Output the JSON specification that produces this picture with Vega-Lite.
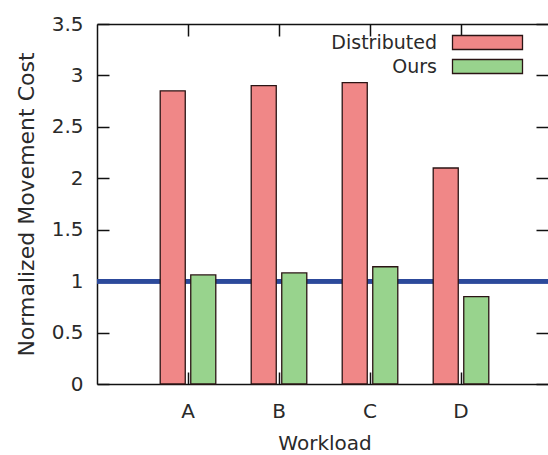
{
  "$schema": "https://vega.github.io/schema/vega-lite/v6.json",
  "autosize": "none",
  "width": 451,
  "height": 360,
  "padding": {"left": 97, "top": 24, "right": 0, "bottom": 71},
  "background": "white",
  "config": {
    "view": {"stroke": null},
    "font": "DejaVu Sans",
    "axis": {"grid": false, "domainColor": "#111", "domainWidth": 1.5, "tickColor": "#111", "tickWidth": 1.5, "labelFont": "DejaVu Sans", "titleFont": "DejaVu Sans", "labelColor": "#2a2a2a", "titleColor": "#2a2a2a", "labelFontSize": 20, "titleFontSize": 20, "titleFontWeight": "normal"}
  },
  "data": {"values": [
    {"workload": "A", "series": "Distributed", "value": 2.85},
    {"workload": "A", "series": "Ours", "value": 1.06},
    {"workload": "B", "series": "Distributed", "value": 2.9},
    {"workload": "B", "series": "Ours", "value": 1.08},
    {"workload": "C", "series": "Distributed", "value": 2.93},
    {"workload": "C", "series": "Ours", "value": 1.14},
    {"workload": "D", "series": "Distributed", "value": 2.1},
    {"workload": "D", "series": "Ours", "value": 0.85}
  ]},
  "resolve": {"axis": {"x": "independent", "y": "independent"}},
  "layer": [
    {
      "mark": {"type": "rule", "color": "#2c4a9b", "strokeWidth": 4},
      "encoding": {"y": {"datum": 1, "type": "quantitative", "axis": null}}
    },
    {
      "mark": {"type": "bar", "stroke": "#2a1414", "strokeWidth": 1.3},
      "encoding": {
        "x": {"field": "workload", "type": "nominal", "sort": ["A", "B", "C", "D"],
              "scale": {"range": [0, 455], "paddingInner": 0, "paddingOuter": 0.5},
              "axis": {"orient": "bottom", "title": "Workload", "labelAngle": 0, "tickSize": -12, "labelPadding": 29, "titlePadding": 12, "domain": true}},
        "xOffset": {"field": "series", "type": "nominal", "scale": {"paddingInner": 0.18, "paddingOuter": 0.58}},
        "y": {"field": "value", "type": "quantitative",
              "scale": {"domain": [0, 3.5], "nice": false, "zero": true},
              "axis": {"orient": "left", "title": "Normalized Movement Cost", "titleFontSize": 22, "values": [0, 0.5, 1, 1.5, 2, 2.5, 3, 3.5], "format": "~g", "tickSize": -12, "labelPadding": 26, "titlePadding": 13}},
        "color": {"field": "series", "type": "nominal",
                  "scale": {"domain": ["Distributed", "Ours"], "range": ["#f08787", "#98d38d"]},
                  "legend": {"orient": "none", "legendX": 381, "legendY": 9, "title": null, "symbolType": "M-10,-2H10V2H-10Z", "symbolSize": 49, "symbolStrokeColor": "#2a1414", "symbolStrokeWidth": 1.3, "symbolOpacity": 1, "labelAlign": "right", "labelOffset": -60, "labelFontSize": 19, "labelColor": "#2a2a2a", "labelFont": "DejaVu Sans", "rowPadding": 3}}
      }
    },
    {
      "mark": {"type": "bar", "opacity": 0},
      "encoding": {
        "x": {"field": "workload", "type": "nominal", "sort": ["A", "B", "C", "D"],
              "axis": {"orient": "top", "title": null, "labels": false, "tickSize": -12, "domain": true}},
        "y": {"field": "value", "type": "quantitative",
              "axis": {"orient": "right", "title": null, "labels": false, "values": [0, 0.5, 1, 1.5, 2, 2.5, 3, 3.5], "tickSize": -12, "domain": false}}
      }
    }
  ]
}
